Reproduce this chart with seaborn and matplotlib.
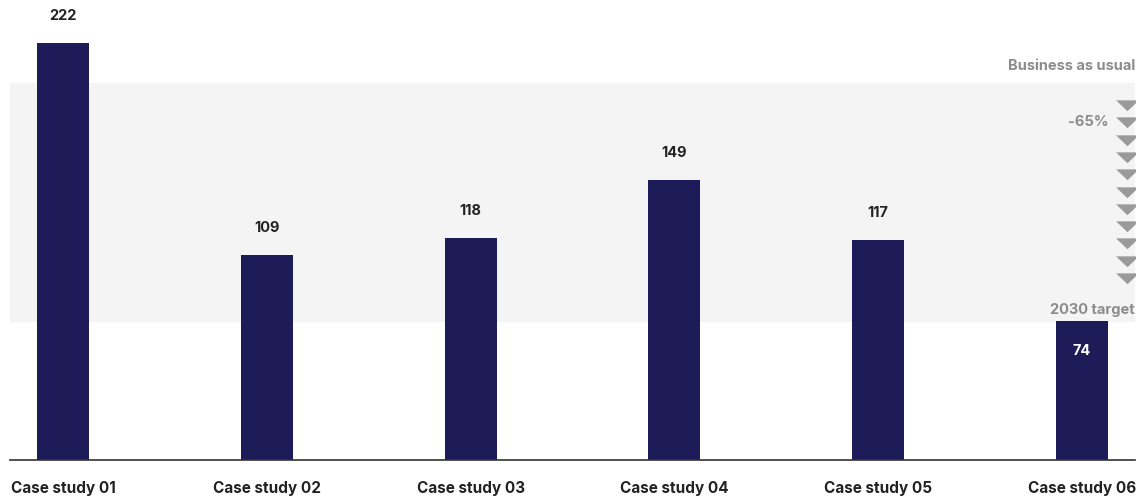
import numpy as np
import pandas as pd
import matplotlib
matplotlib.use('Agg')
import matplotlib.pyplot as plt
import matplotlib.transforms as mtransforms
import seaborn as sns

# данные
cases = ['Case study 01', 'Case study 02', 'Case study 03', 'Case study 04', 'Case study 05', 'Case study 06']
values = [222, 109, 118, 149, 117, 74]
bau_level = 201        # Business as usual
target_level = 74      # 2030 target
reduction_label = '-65%'

df = pd.DataFrame({'case': cases, 'value': values})

sns.set_theme(style='white')
plt.rcParams['font.family'] = ['Inter', 'DejaVu Sans']

fig = plt.figure(figsize=(11.45, 4.96), dpi=100)
ax = fig.add_axes([10 / 1145, 36 / 496, 1125 / 1145, 460 / 496])

navy = '#1e1b59'
grey_txt = '#8c8c8c'

# серая полоса между BAU и целью
ax.axhspan(target_level, bau_level, color='#f4f4f4', zorder=0)

sns.barplot(data=df, x='case', y='value', color=navy, width=0.255, saturation=1, ax=ax,
            zorder=2, linewidth=0)

ax.set_xlim(-0.26, 5.26)
ax.set_ylim(0, 245)

for i, v in enumerate(values):
    if i == len(values) - 1:
        ax.text(i, v - 12, str(v), ha='center', va='top', color='white', fontsize=10.5, fontweight='bold', zorder=3)
    else:
        ax.text(i, v + 11, str(v), ha='center', va='bottom', color='#222222',
                fontsize=10.5, fontweight='bold', zorder=3)

# подписи справа
trans = mtransforms.blended_transform_factory(ax.transAxes, ax.transData)
ax.text(1.0, bau_level + 5, 'Business as usual', transform=trans, ha='right', va='bottom',
        color=grey_txt, fontsize=10.5, fontweight='bold')
ax.text(1.0, target_level + 2, '2030 target', transform=trans, ha='right', va='bottom',
        color=grey_txt, fontsize=10.5, fontweight='bold')

tri = [(-1, 0.45), (1, 0.45), (0, -0.5), (-1, 0.45)]   # широкий треугольник вниз
arrow_y = np.linspace(bau_level - 12, target_level + 23, 11)
ax.scatter(np.full(len(arrow_y), 0.9925), arrow_y, marker=tri, s=270, color='#9a9a9a',
           transform=trans, linewidths=0, zorder=3)
ax.text(0.9765, arrow_y[1], reduction_label, transform=trans, ha='right', va='center',
        color=grey_txt, fontsize=10.5, fontweight='bold')

sns.despine(ax=ax, left=True, top=True, right=True)
ax.spines['bottom'].set_color('#333333')
ax.spines['bottom'].set_linewidth(1.2)
ax.set_yticks([])
ax.set_xlabel('')
ax.set_ylabel('')
ax.tick_params(axis='x', length=0, pad=15)
for lab in ax.get_xticklabels():
    lab.set_fontweight('bold')
    lab.set_fontsize(11)
    lab.set_color('#222222')

fig.savefig('out.png', dpi=100)
